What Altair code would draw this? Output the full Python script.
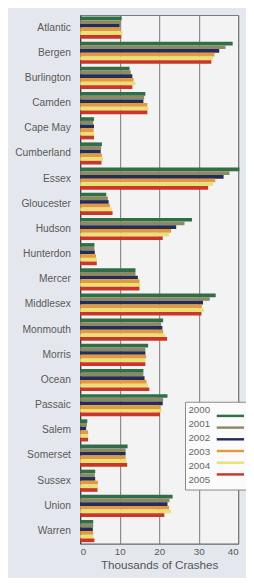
import altair as alt
import pandas as pd

counties = ["Atlantic", "Bergen", "Burlington", "Camden", "Cape May", "Cumberland",
            "Essex", "Gloucester", "Hudson", "Hunterdon", "Mercer", "Middlesex",
            "Monmouth", "Morris", "Ocean", "Passaic", "Salem", "Somerset",
            "Sussex", "Union", "Warren"]
years = ["2000", "2001", "2002", "2003", "2004", "2005"]
colors = ["#2f6e47", "#8c8a62", "#262c5a", "#e39a3c", "#e9e078", "#cc3628"]

v2000 = [10.5, 38.6, 12.5, 16.5, 3.5, 5.5, 40.3, 6.6, 28.3, 3.6, 14.0, 34.3, 21.0, 17.2, 16.0, 22.1, 1.8, 12.0, 3.8, 23.4, 3.3]
v2001 = [10.3, 36.8, 12.8, 16.2, 3.3, 5.3, 37.8, 7.0, 26.4, 3.6, 14.0, 32.8, 20.5, 16.5, 16.0, 21.0, 1.7, 11.5, 3.7, 22.6, 3.3]
v2002 = [10.0, 35.2, 13.2, 16.0, 3.5, 5.2, 36.3, 7.2, 24.3, 3.7, 14.6, 31.1, 20.8, 16.5, 16.3, 20.9, 1.5, 11.5, 3.8, 22.1, 3.2]
v2003 = [10.2, 34.0, 13.5, 17.0, 3.4, 5.5, 34.2, 7.5, 23.0, 4.0, 15.0, 30.8, 21.0, 16.7, 16.8, 20.4, 2.0, 11.5, 4.5, 22.5, 3.3]
v2004 = [10.7, 33.6, 14.0, 17.3, 3.6, 5.8, 33.6, 8.0, 22.5, 4.3, 15.2, 31.3, 21.5, 16.5, 17.2, 20.6, 2.0, 11.7, 4.5, 23.0, 3.3]
v2005 = [10.4, 33.2, 13.2, 17.0, 3.5, 5.4, 32.4, 8.2, 20.9, 4.2, 15.0, 30.7, 22.0, 16.5, 17.5, 20.2, 2.0, 11.9, 4.4, 21.3, 3.6]

series = [v2000, v2001, v2002, v2003, v2004, v2005]
rows = []
for yr, vals in zip(years, series):
    for c, v in zip(counties, vals):
        rows.append({"county": c, "year": yr, "crashes": v})
df = pd.DataFrame(rows)
leg = pd.DataFrame({"year": years})

color_scale = alt.Scale(domain=years, range=colors)

bars = alt.Chart(df).mark_bar().encode(
    y=alt.Y("county:N", sort=counties, title=None,
            scale=alt.Scale(paddingInner=0.12, paddingOuter=0.06),
            axis=alt.Axis(ticks=False, labelPadding=10, labelFontSize=10.5,
                          labelColor="#5a5a5a", domainColor="#333", labelFont="Liberation Sans")),
    yOffset=alt.YOffset("year:N", sort=years, scale=alt.Scale(paddingInner=0, paddingOuter=0)),
    x=alt.X("crashes:Q", title="Thousands of Crashes",
            scale=alt.Scale(domain=[0, 40], nice=False),
            axis=alt.Axis(values=[0, 10, 20, 30, 40], ticks=False, grid=True,
                          gridColor="#777", domainColor="#777", labelPadding=3,
                          labelFontSize=10, labelColor="#5a5a5a", labelFont="Liberation Sans",
                          titleFontSize=12, titleFontWeight="normal", titleColor="#555",
                          titleFont="Liberation Sans", titlePadding=3)),
    color=alt.Color("year:N", scale=color_scale, legend=None),
)

box = alt.Chart(pd.DataFrame({"a": [0]})).mark_rect(
    fill="#fbfbfb", stroke="#888", strokeWidth=1
).encode(x=alt.value(108), x2=alt.value(172), y=alt.value(397), y2=alt.value(487))

leg_y = alt.Y("year:N", sort=years, axis=None,
              scale=alt.Scale(domain=years, range=[405, 477], padding=0))

leg_text = alt.Chart(leg).mark_text(
    align="left", baseline="middle", fontSize=10, color="#666", font="Liberation Sans"
).encode(x=alt.value(111), y=leg_y, text="year:N")

leg_rule = alt.Chart(leg).mark_rule(strokeWidth=2.5).encode(
    x=alt.value(140), x2=alt.value(168), y=leg_y,
    color=alt.Color("year:N", scale=color_scale, legend=None),
)

chart = alt.layer(bars, box, leg_text, leg_rule).resolve_scale(
    y="independent"
).properties(
    width=162, height=542,
    background="#e4e7ed",
    autosize=alt.AutoSizeParams(type="none"),
    padding={"left": 74, "top": 0, "right": 8, "bottom": 28},
).configure_view(fill="#f3f3f4", stroke="#777")

chart.save("out.html", embed_options={"renderer": "svg", "actions": False})
